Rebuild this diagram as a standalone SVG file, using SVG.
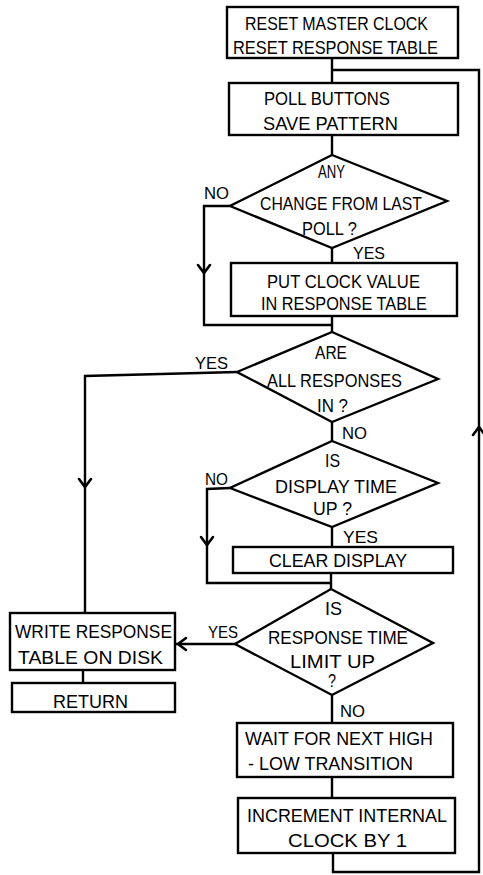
<svg xmlns="http://www.w3.org/2000/svg" width="483" height="875" viewBox="0 0 483 875">
<style>
.s{fill:#fff;stroke:#000;stroke-width:2.4;stroke-linejoin:miter}
.c{fill:none;stroke:#000;stroke-width:2.4}
.a{fill:none;stroke:#000;stroke-width:2.6;stroke-linecap:round;stroke-linejoin:miter}
text{font-family:"Liberation Sans Narrow","Liberation Sans",Arial,sans-serif;font-size:19px;fill:#000}
.l{font-size:17px}
</style>
<defs>
<path id="chev" class="a" d="M-6,-8 L0,0 L6,-8"/>
</defs>
<rect width="483" height="875" fill="#fff"/>
<g id="connectors">
<path class="c" d="M332,58 V83"/>
<path class="c" d="M332,70 H479 V872 H333 V853"/>
<path class="c" d="M332,135 V155"/>
<path class="c" d="M230,206 H204 V325 H332"/>
<path class="c" d="M332,248 V263"/>
<path class="c" d="M332,316 V332"/>
<path class="c" d="M237,372 L85,376 V613"/>
<path class="c" d="M332,422 V441"/>
<path class="c" d="M230,488 L207,489 V583 H331"/>
<path class="c" d="M332,527 V547"/>
<path class="c" d="M331,573 V589"/>
<path class="c" d="M235,644 H175"/>
<path class="c" d="M83,670 V683"/>
<path class="c" d="M332,695 V723"/>
<path class="c" d="M332,777 V798"/>
<use href="#chev" transform="translate(85,487)"/>
<use href="#chev" transform="translate(204,273)"/>
<use href="#chev" transform="translate(207,545)"/>
<use href="#chev" transform="translate(479,427) rotate(180)"/>
<use href="#chev" transform="translate(178,644) rotate(90)"/>
</g>
<g id="n1"><rect class="s" x="227" y="7" width="231" height="51"/>
<text x="245" y="30" textLength="183" lengthAdjust="spacingAndGlyphs">RESET MASTER CLOCK</text>
<text x="233" y="54" textLength="205" lengthAdjust="spacingAndGlyphs">RESET RESPONSE TABLE</text></g>
<g id="n2"><rect class="s" x="229" y="83" width="229" height="52"/>
<text x="264" y="105" textLength="126" lengthAdjust="spacingAndGlyphs">POLL BUTTONS</text>
<text x="263" y="130" textLength="135" lengthAdjust="spacingAndGlyphs">SAVE PATTERN</text></g>
<g id="d1"><polygon class="s" points="332,155 447,201 332,248 230,206"/>
<text x="318" y="178" textLength="27" lengthAdjust="spacingAndGlyphs">ANY</text>
<text x="260" y="210" textLength="162" lengthAdjust="spacingAndGlyphs">CHANGE FROM LAST</text>
<text x="302" y="235" textLength="55" lengthAdjust="spacingAndGlyphs">POLL ?</text>
<text class="l" x="204" y="199" textLength="25" lengthAdjust="spacingAndGlyphs">NO</text>
<text class="l" x="353" y="259" textLength="32" lengthAdjust="spacingAndGlyphs">YES</text></g>
<g id="n3"><rect class="s" x="231" y="263" width="226" height="53"/>
<text x="267" y="288" textLength="153" lengthAdjust="spacingAndGlyphs">PUT CLOCK VALUE</text>
<text x="261" y="310" textLength="166" lengthAdjust="spacingAndGlyphs">IN RESPONSE TABLE</text></g>
<g id="d2"><polygon class="s" points="332,332 438,379 332,422 237,372"/>
<text x="315" y="359" textLength="32" lengthAdjust="spacingAndGlyphs">ARE</text>
<text x="267" y="387" textLength="135" lengthAdjust="spacingAndGlyphs">ALL RESPONSES</text>
<text x="317" y="412" textLength="31" lengthAdjust="spacingAndGlyphs">IN ?</text>
<text class="l" x="195" y="369" textLength="33" lengthAdjust="spacingAndGlyphs">YES</text>
<text class="l" x="342" y="439" textLength="25" lengthAdjust="spacingAndGlyphs">NO</text></g>
<g id="d3"><polygon class="s" points="332,441 438,483 332,527 230,488"/>
<text x="325" y="467" textLength="15" lengthAdjust="spacingAndGlyphs">IS</text>
<text x="275" y="493" textLength="122" lengthAdjust="spacingAndGlyphs">DISPLAY TIME</text>
<text x="313" y="515" textLength="39" lengthAdjust="spacingAndGlyphs">UP ?</text>
<text class="l" x="205" y="485" textLength="23" lengthAdjust="spacingAndGlyphs">NO</text>
<text class="l" x="343" y="543" textLength="35" lengthAdjust="spacingAndGlyphs">YES</text></g>
<g id="n4"><rect class="s" x="233" y="547" width="220" height="26"/>
<text x="269" y="567" textLength="138" lengthAdjust="spacingAndGlyphs">CLEAR DISPLAY</text></g>
<g id="d4"><polygon class="s" points="331,589 433,643 332,695 235,644"/>
<text x="325" y="615" textLength="17" lengthAdjust="spacingAndGlyphs">IS</text>
<text x="268" y="644" textLength="140" lengthAdjust="spacingAndGlyphs">RESPONSE TIME</text>
<text x="290" y="668" textLength="85" lengthAdjust="spacingAndGlyphs">LIMIT UP</text>
<text x="328" y="687" textLength="8" lengthAdjust="spacingAndGlyphs">?</text>
<text class="l" x="208" y="638" textLength="30" lengthAdjust="spacingAndGlyphs">YES</text>
<text class="l" x="340" y="717" textLength="25" lengthAdjust="spacingAndGlyphs">NO</text></g>
<g id="n5"><rect class="s" x="10" y="613" width="165" height="57"/>
<text x="15" y="638" textLength="157" lengthAdjust="spacingAndGlyphs">WRITE RESPONSE</text>
<text x="18" y="664" textLength="145" lengthAdjust="spacingAndGlyphs">TABLE ON DISK</text></g>
<g id="n6"><rect class="s" x="12" y="683" width="163" height="29"/>
<text x="53" y="708" textLength="75" lengthAdjust="spacingAndGlyphs">RETURN</text></g>
<g id="n7"><rect class="s" x="237" y="723" width="216" height="54"/>
<text x="245" y="745" textLength="188" lengthAdjust="spacingAndGlyphs">WAIT FOR NEXT HIGH</text>
<text x="248" y="770" textLength="165" lengthAdjust="spacingAndGlyphs">- LOW TRANSITION</text></g>
<g id="n8"><rect class="s" x="238" y="798" width="217" height="55"/>
<text x="247" y="822" textLength="200" lengthAdjust="spacingAndGlyphs">INCREMENT INTERNAL</text>
<text x="288" y="847" textLength="119" lengthAdjust="spacingAndGlyphs">CLOCK BY 1</text></g>
</svg>
